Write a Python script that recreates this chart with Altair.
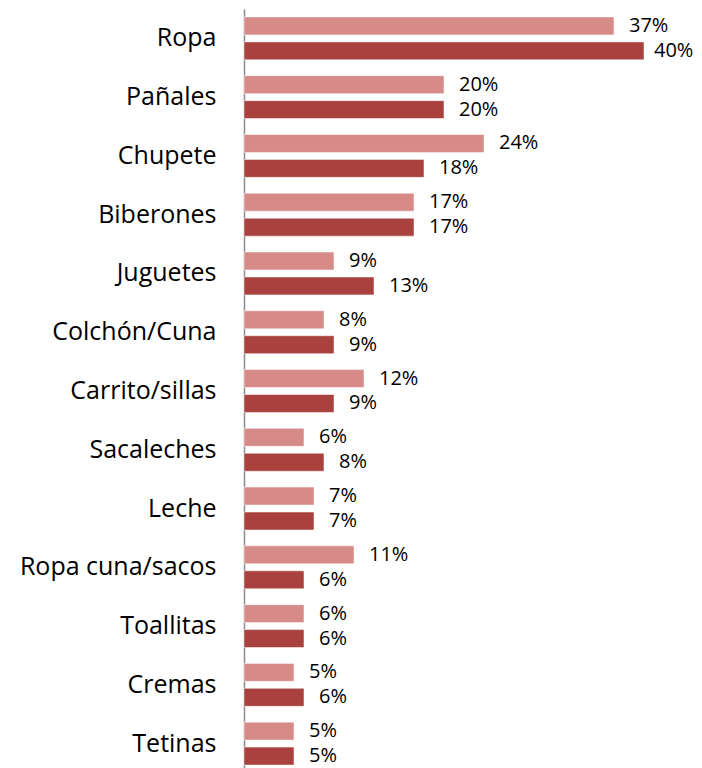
import altair as alt
import pandas as pd

categories = ["Ropa", "Pañales", "Chupete", "Biberones", "Juguetes", "Colchón/Cuna",
              "Carrito/sillas", "Sacaleches", "Leche", "Ropa cuna/sacos", "Toallitas",
              "Cremas", "Tetinas"]
serie_a = [37, 20, 24, 17, 9, 8, 12, 6, 7, 11, 6, 5, 5]
serie_b = [40, 20, 18, 17, 13, 9, 9, 8, 7, 6, 6, 6, 5]
series = ["A", "B"]
colors = ["#D68B89", "#A9423F"]

rows = []
for c, a, b in zip(categories, serie_a, serie_b):
    rows.append({"cat": c, "serie": "A", "v": a, "label": f"{a}%"})
    rows.append({"cat": c, "serie": "B", "v": b, "label": f"{b}%"})
df = pd.DataFrame(rows)

y = alt.Y("cat:N", sort=categories, title=None,
          scale=alt.Scale(paddingInner=0.27, paddingOuter=0.135),
          axis=alt.Axis(ticks=False, labelFontSize=25, labelFont="Open Sans",
                        labelColor="black", labelPadding=28, labelLimit=0,
                        domainColor="#8c8c8c", domainWidth=1.5))
x = alt.X("v:Q", scale=alt.Scale(domain=[0, 45]), axis=None)
yoff = alt.YOffset("serie:N", sort=series,
                   scale=alt.Scale(paddingInner=0.28, paddingOuter=0))

base = alt.Chart(df)
bars = base.mark_bar(stroke="white", strokeWidth=0.5).encode(
    y=y, x=x, yOffset=yoff,
    color=alt.Color("serie:N", scale=alt.Scale(domain=series, range=colors), legend=None),
)
texts = base.mark_text(align="left", baseline="middle", dx=15, fontSize=20,
                       font="Open Sans", color="black").encode(
    y=y, x=x, yOffset=yoff, text="label:N"
).transform_filter("datum.v < 40")
texts_max = base.mark_text(align="left", baseline="middle", dx=10, fontSize=20,
                           font="Open Sans", color="black").encode(
    y=y, x=x, yOffset=yoff, text="label:N"
).transform_filter("datum.v >= 40")

chart = (bars + texts + texts_max).properties(
    width=450, height=764,
    autosize=alt.AutoSizeParams(type="none"),
    padding={"left": 236, "top": 1, "right": 0, "bottom": 0},
).configure_view(stroke=None)

chart.save("out.html", embed_options={"renderer": "svg", "actions": False})
